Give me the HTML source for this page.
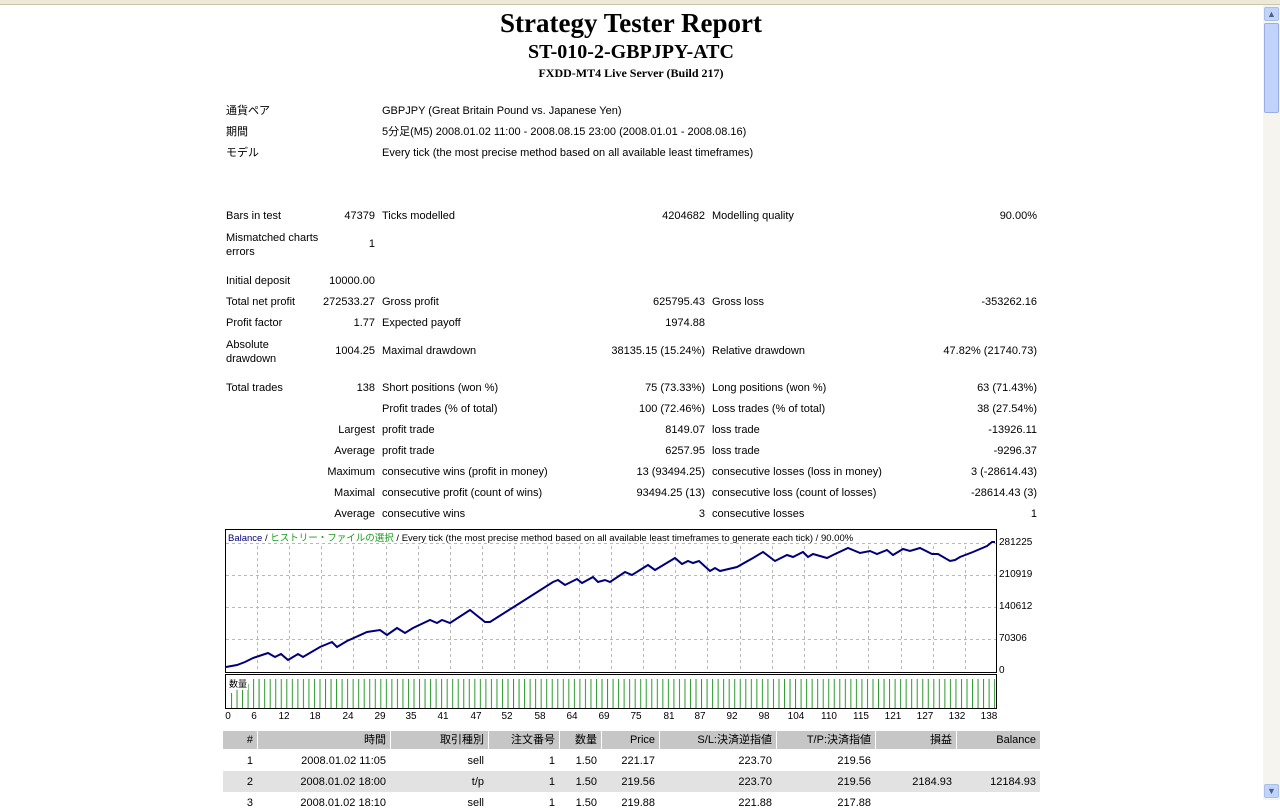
<!DOCTYPE html>
<html><head><meta charset="utf-8"><style>
body{margin:0;width:1280px;height:800px;overflow:hidden;background:#fff;font-family:"Liberation Sans","Noto Sans CJK JP",sans-serif;font-size:11px;color:#000;position:relative}
.a{position:absolute;white-space:nowrap;line-height:13px;margin-top:1px}
.r{text-align:right}
.t{font-family:"Liberation Serif","Noto Serif CJK SC",serif;font-weight:bold;text-align:center;width:1280px;left:-9px;line-height:normal;margin-top:0}
.th{position:absolute;top:731px;height:18px;background:#c6c6c6}
</style></head><body>
<div style="position:absolute;left:0;top:0;width:1280px;height:4px;background:#ece9d8;border-bottom:1px solid #c9c5b0"></div>
<div class="a t" style="top:8px;font-size:27px">Strategy Tester Report</div>
<div class="a t" style="top:41px;font-size:20px">ST-010-2-GBPJPY-ATC</div>
<div class="a t" style="top:66px;font-size:12px">FXDD-MT4 Live Server (Build 217)</div>

<div class="a" style="left:226px;top:104px">通貨ペア</div><div class="a" style="left:382px;top:104px">GBPJPY (Great Britain Pound vs. Japanese Yen)</div>
<div class="a" style="left:226px;top:125px">期間</div><div class="a" style="left:382px;top:125px">5分足(M5) 2008.01.02 11:00 - 2008.08.15 23:00 (2008.01.01 - 2008.08.16)</div>
<div class="a" style="left:226px;top:146px">モデル</div><div class="a" style="left:382px;top:146px">Every tick (the most precise method based on all available least timeframes)</div>

<div class="a" style="left:226px;top:209px">Bars in test</div><div class="a r" style="right:905px;top:209px">47379</div><div class="a" style="left:382px;top:209px">Ticks modelled</div><div class="a r" style="right:575px;top:209px">4204682</div><div class="a" style="left:712px;top:209px">Modelling quality</div><div class="a r" style="right:243px;top:209px">90.00%</div>
<div class="a" style="left:226px;top:230px;line-height:14px">Mismatched charts<br>errors</div><div class="a r" style="right:905px;top:237px">1</div>
<div class="a" style="left:226px;top:274px">Initial deposit</div><div class="a r" style="right:905px;top:274px">10000.00</div>
<div class="a" style="left:226px;top:295px">Total net profit</div><div class="a r" style="right:905px;top:295px">272533.27</div><div class="a" style="left:382px;top:295px">Gross profit</div><div class="a r" style="right:575px;top:295px">625795.43</div><div class="a" style="left:712px;top:295px">Gross loss</div><div class="a r" style="right:243px;top:295px">-353262.16</div>
<div class="a" style="left:226px;top:316px">Profit factor</div><div class="a r" style="right:905px;top:316px">1.77</div><div class="a" style="left:382px;top:316px">Expected payoff</div><div class="a r" style="right:575px;top:316px">1974.88</div>
<div class="a" style="left:226px;top:337px;line-height:14px">Absolute<br>drawdown</div><div class="a r" style="right:905px;top:344px">1004.25</div><div class="a" style="left:382px;top:344px">Maximal drawdown</div><div class="a r" style="right:575px;top:344px">38135.15 (15.24%)</div><div class="a" style="left:712px;top:344px">Relative drawdown</div><div class="a r" style="right:243px;top:344px">47.82% (21740.73)</div>
<div class="a" style="left:226px;top:381px">Total trades</div><div class="a r" style="right:905px;top:381px">138</div><div class="a" style="left:382px;top:381px">Short positions (won %)</div><div class="a r" style="right:575px;top:381px">75 (73.33%)</div><div class="a" style="left:712px;top:381px">Long positions (won %)</div><div class="a r" style="right:243px;top:381px">63 (71.43%)</div>
<div class="a" style="left:382px;top:402px">Profit trades (% of total)</div><div class="a r" style="right:575px;top:402px">100 (72.46%)</div><div class="a" style="left:712px;top:402px">Loss trades (% of total)</div><div class="a r" style="right:243px;top:402px">38 (27.54%)</div>
<div class="a r" style="right:905px;top:423px">Largest</div><div class="a" style="left:382px;top:423px">profit trade</div><div class="a r" style="right:575px;top:423px">8149.07</div><div class="a" style="left:712px;top:423px">loss trade</div><div class="a r" style="right:243px;top:423px">-13926.11</div>
<div class="a r" style="right:905px;top:444px">Average</div><div class="a" style="left:382px;top:444px">profit trade</div><div class="a r" style="right:575px;top:444px">6257.95</div><div class="a" style="left:712px;top:444px">loss trade</div><div class="a r" style="right:243px;top:444px">-9296.37</div>
<div class="a r" style="right:905px;top:465px">Maximum</div><div class="a" style="left:382px;top:465px">consecutive wins (profit in money)</div><div class="a r" style="right:575px;top:465px">13 (93494.25)</div><div class="a" style="left:712px;top:465px">consecutive losses (loss in money)</div><div class="a r" style="right:243px;top:465px">3 (-28614.43)</div>
<div class="a r" style="right:905px;top:486px">Maximal</div><div class="a" style="left:382px;top:486px">consecutive profit (count of wins)</div><div class="a r" style="right:575px;top:486px">93494.25 (13)</div><div class="a" style="left:712px;top:486px">consecutive loss (count of losses)</div><div class="a r" style="right:243px;top:486px">-28614.43 (3)</div>
<div class="a r" style="right:905px;top:507px">Average</div><div class="a" style="left:382px;top:507px">consecutive wins</div><div class="a r" style="right:575px;top:507px">3</div><div class="a" style="left:712px;top:507px">consecutive losses</div><div class="a r" style="right:243px;top:507px">1</div>

<svg style="position:absolute;left:0;top:0" width="1280" height="800">
<defs><pattern id="vb" x="231" y="0" width="5.53" height="800" patternUnits="userSpaceOnUse"><line x1="0.5" y1="0" x2="0.5" y2="800" stroke="#2a9a2a" stroke-width="1"/></pattern></defs>
<rect x="225.5" y="529.5" width="771" height="143" fill="#fff" stroke="#000"/>
<g stroke="#b8b8b8" stroke-dasharray="3,3">
<line x1="226" y1="543.5" x2="996" y2="543.5"/><line x1="226" y1="575.5" x2="996" y2="575.5"/><line x1="226" y1="607.5" x2="996" y2="607.5"/><line x1="226" y1="639.5" x2="996" y2="639.5"/>
<line x1="257.5" y1="546" x2="257.5" y2="672"/><line x1="289.5" y1="546" x2="289.5" y2="672"/><line x1="321.5" y1="546" x2="321.5" y2="672"/><line x1="353.5" y1="546" x2="353.5" y2="672"/><line x1="386.5" y1="546" x2="386.5" y2="672"/><line x1="418.5" y1="546" x2="418.5" y2="672"/><line x1="450.5" y1="546" x2="450.5" y2="672"/><line x1="482.5" y1="546" x2="482.5" y2="672"/><line x1="514.5" y1="546" x2="514.5" y2="672"/><line x1="547.5" y1="546" x2="547.5" y2="672"/><line x1="579.5" y1="546" x2="579.5" y2="672"/><line x1="611.5" y1="546" x2="611.5" y2="672"/><line x1="643.5" y1="546" x2="643.5" y2="672"/><line x1="675.5" y1="546" x2="675.5" y2="672"/><line x1="707.5" y1="546" x2="707.5" y2="672"/><line x1="740.5" y1="546" x2="740.5" y2="672"/><line x1="772.5" y1="546" x2="772.5" y2="672"/><line x1="804.5" y1="546" x2="804.5" y2="672"/><line x1="836.5" y1="546" x2="836.5" y2="672"/><line x1="868.5" y1="546" x2="868.5" y2="672"/><line x1="901.5" y1="546" x2="901.5" y2="672"/><line x1="933.5" y1="546" x2="933.5" y2="672"/><line x1="965.5" y1="546" x2="965.5" y2="672"/>
</g>
<polyline fill="none" stroke="#00007a" stroke-width="2" points="226,667 237,665 245,662 253,658 262,655 268,653 275,657 281,654 288,660 298,654 303,657 320,647 332,642 337,647 347,641 367,632 380,630 387,635 397,628 405,633 413,628 430,620 437,623 442,620 450,623 470,610 485,622 490,622 520,603 553,582 558,580 565,585 577,579 582,583 593,577 598,582 605,580 610,582 625,572 632,575 640,570 648,565 655,570 675,558 682,564 688,561 693,563 699,561 710,571 715,568 720,571 737,567 753,558 763,552 775,561 787,555 793,557 803,552 808,557 813,554 827,558 833,555 848,548 860,553 870,551 877,554 887,550 893,555 903,549 910,551 920,548 932,554 938,554 950,561 955,560 960,557 973,552 987,546 992,542 995,542"/>
<rect x="225.5" y="674.5" width="771" height="34" fill="#fff" stroke="#000"/>
<rect x="258" y="679" width="737" height="29" fill="url(#vb)"/>
<rect x="231" y="693" width="28" height="15" fill="url(#vb)"/>
<rect x="236" y="690" width="23" height="3" fill="url(#vb)"/>
<rect x="242" y="688" width="17" height="2" fill="url(#vb)"/>
<rect x="247" y="684" width="12" height="4" fill="url(#vb)"/>
<rect x="253" y="679" width="6" height="5" fill="url(#vb)"/>
<rect x="228" y="677" width="20" height="13" fill="#fff"/>
<g font-family="Liberation Sans,sans-serif" font-size="10" fill="#000">
<text x="999" y="545">281225</text><text x="999" y="577">210919</text><text x="999" y="609">140612</text><text x="999" y="641">70306</text><text x="999" y="673">0</text>
</g>
<g font-family="Liberation Sans,sans-serif" font-size="10" fill="#000" text-anchor="middle">
<text x="228" y="719">0</text><text x="254" y="719">6</text><text x="284" y="719">12</text><text x="315" y="719">18</text><text x="348" y="719">24</text><text x="380" y="719">29</text><text x="411" y="719">35</text><text x="443" y="719">41</text><text x="476" y="719">47</text><text x="507" y="719">52</text><text x="540" y="719">58</text><text x="572" y="719">64</text><text x="604" y="719">69</text><text x="636" y="719">75</text><text x="669" y="719">81</text><text x="700" y="719">87</text><text x="732" y="719">92</text><text x="764" y="719">98</text><text x="796" y="719">104</text><text x="829" y="719">110</text><text x="861" y="719">115</text><text x="893" y="719">121</text><text x="925" y="719">127</text><text x="957" y="719">132</text><text x="989" y="719">138</text>
</g>
<text x="229" y="687" font-size="9" font-family="Noto Sans CJK JP,sans-serif">数量</text>
<text x="228" y="541" font-size="9.5" font-family="Liberation Sans,Noto Sans CJK JP,sans-serif"><tspan fill="#00007a">Balance</tspan> / <tspan fill="#1a9a1a">ヒストリー・ファイルの選択</tspan> / Every tick (the most precise method based on all available least timeframes to generate each tick) / 90.00%</text>
</svg>

<div class="th" style="left:223px;width:34px"></div><div class="th" style="left:258px;width:132px"></div><div class="th" style="left:391px;width:97px"></div><div class="th" style="left:489px;width:70px"></div><div class="th" style="left:560px;width:41px"></div><div class="th" style="left:602px;width:57px"></div><div class="th" style="left:660px;width:116px"></div><div class="th" style="left:777px;width:98px"></div><div class="th" style="left:876px;width:80px"></div><div class="th" style="left:957px;width:83px"></div>
<div style="position:absolute;left:223px;top:771px;width:817px;height:21px;background:#e2e2e2"></div>
<div class="a r" style="right:1027px;top:733px">#</div><div class="a r" style="right:894px;top:733px">時間</div><div class="a r" style="right:796px;top:733px">取引種別</div><div class="a r" style="right:725px;top:733px">注文番号</div><div class="a r" style="right:683px;top:733px">数量</div><div class="a r" style="right:625px;top:733px">Price</div><div class="a r" style="right:508px;top:733px">S/L:決済逆指値</div><div class="a r" style="right:409px;top:733px">T/P:決済指値</div><div class="a r" style="right:328px;top:733px">損益</div><div class="a r" style="right:244px;top:733px">Balance</div>
<div class="a r" style="right:1027px;top:754px">1</div><div class="a r" style="right:894px;top:754px">2008.01.02 11:05</div><div class="a r" style="right:796px;top:754px">sell</div><div class="a r" style="right:725px;top:754px">1</div><div class="a r" style="right:683px;top:754px">1.50</div><div class="a r" style="right:625px;top:754px">221.17</div><div class="a r" style="right:508px;top:754px">223.70</div><div class="a r" style="right:409px;top:754px">219.56</div>
<div class="a r" style="right:1027px;top:775px">2</div><div class="a r" style="right:894px;top:775px">2008.01.02 18:00</div><div class="a r" style="right:796px;top:775px">t/p</div><div class="a r" style="right:725px;top:775px">1</div><div class="a r" style="right:683px;top:775px">1.50</div><div class="a r" style="right:625px;top:775px">219.56</div><div class="a r" style="right:508px;top:775px">223.70</div><div class="a r" style="right:409px;top:775px">219.56</div><div class="a r" style="right:328px;top:775px">2184.93</div><div class="a r" style="right:244px;top:775px">12184.93</div>
<div class="a r" style="right:1027px;top:796px">3</div><div class="a r" style="right:894px;top:796px">2008.01.02 18:10</div><div class="a r" style="right:796px;top:796px">sell</div><div class="a r" style="right:725px;top:796px">1</div><div class="a r" style="right:683px;top:796px">1.50</div><div class="a r" style="right:625px;top:796px">219.88</div><div class="a r" style="right:508px;top:796px">221.88</div><div class="a r" style="right:409px;top:796px">217.88</div>

<div style="position:absolute;left:1263px;top:5px;width:17px;height:795px;background:#f5f4ef"></div>
<div style="position:absolute;left:1264px;top:7px;width:15px;height:14px;background:#c1d3fb;border:1px solid #a9bfe8;border-radius:2px;box-sizing:border-box;color:#4d6185;font-size:9px;text-align:center;line-height:12px">▲</div>
<div style="position:absolute;left:1264px;top:23px;width:15px;height:90px;background:#c1d3fb;border:1px solid #98aee0;border-radius:2px;box-sizing:border-box"></div>
<div style="position:absolute;left:1264px;top:784px;width:15px;height:14px;background:#c1d3fb;border:1px solid #a9bfe8;border-radius:2px;box-sizing:border-box;color:#4d6185;font-size:9px;text-align:center;line-height:12px">▼</div>
</body></html>
